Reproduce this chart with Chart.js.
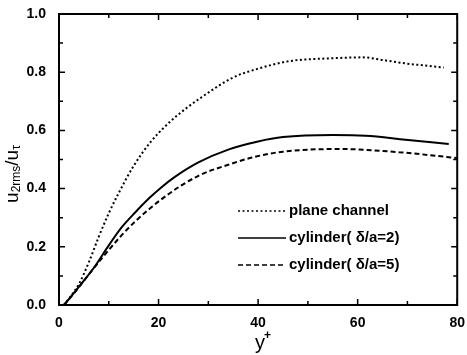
<!DOCTYPE html>
<html>
<head>
<meta charset="utf-8">
<script src="https://cdn.jsdelivr.net/npm/chart.js@4"></script>
<style>
  body { margin: 0; background: #fff; }
  #wrap { width: 467px; height: 355px; }
</style>
</head>
<body>
<div id="wrap"><canvas id="rms"></canvas></div>
<script>
// y+ positions and u2rms/u_tau
const planeX = [1, 4, 6, 8, 10, 12, 15, 18.3, 21.7, 25.7, 28.3, 35, 40, 46.3, 55, 61, 65, 69.7, 74, 77.3];
const planeY = [0, 0.072, 0.147, 0.235, 0.315, 0.385, 0.478, 0.558, 0.62, 0.678, 0.71, 0.782, 0.812, 0.838, 0.848, 0.851, 0.842, 0.83, 0.822, 0.816];

const cyl2X = [1, 4.6, 7.3, 10, 12.5, 15.3, 18.3, 20.6, 23, 28, 34, 40, 45, 55, 61.6, 69.6, 78.3];
const cyl2Y = [0, 0.075, 0.135, 0.205, 0.265, 0.318, 0.37, 0.405, 0.437, 0.49, 0.534, 0.562, 0.577, 0.584, 0.582, 0.568, 0.553];

const cyl5X = [1, 3, 6.6, 9.3, 12.6, 15.3, 21.5, 28, 34, 39.3, 45, 56.3, 68.3, 80];
const cyl5Y = [0, 0.04, 0.118, 0.175, 0.24, 0.287, 0.375, 0.444, 0.482, 0.509, 0.527, 0.536, 0.525, 0.505];

const labels = ['plane channel', 'cylinder( \u03b4/a=2)', 'cylinder( \u03b4/a=5)'];

const toPts = (xs, ys) => xs.map((v, i) => ({x: v, y: ys[i]}));

const FONT = '"Liberation Sans", Arial, sans-serif';

// box, inward ticks, legend and axis titles with sub/superscripts
const decor = {
  id: 'decor',
  afterDraw(chart) {
    const {ctx, chartArea: a, scales: {x, y}} = chart;
    ctx.save();
    ctx.strokeStyle = '#000';
    ctx.lineWidth = 2;
    ctx.strokeRect(a.left, a.top, a.right - a.left, a.bottom - a.top);

    ctx.lineWidth = 1.5;
    ctx.beginPath();
    for (let i = 0; i <= 8; i++) {
      const px = x.getPixelForValue(i * 10);
      const len = i % 2 === 0 ? 6 : 4;
      ctx.moveTo(px, a.bottom); ctx.lineTo(px, a.bottom - len);
      ctx.moveTo(px, a.top); ctx.lineTo(px, a.top + len);
    }
    for (let i = 0; i <= 10; i++) {
      const py = y.getPixelForValue(i / 10);
      const len = i % 2 === 0 ? 6 : 4;
      ctx.moveTo(a.left, py); ctx.lineTo(a.left + len, py);
      ctx.moveTo(a.right, py); ctx.lineTo(a.right - len, py);
    }
    ctx.stroke();

    // legend
    ctx.font = 'bold 15px ' + FONT;
    ctx.textBaseline = 'middle';
    ctx.fillStyle = '#000';
    chart.data.datasets.forEach((ds, i) => {
      const ly = a.top + 197 + i * 27;
      ctx.setLineDash(ds.borderDash || []);
      ctx.lineWidth = 1.5;
      ctx.beginPath();
      ctx.moveTo(a.left + 179, ly);
      ctx.lineTo(a.left + 227, ly);
      ctx.stroke();
      ctx.setLineDash([]);
      ctx.fillText(ds.label, a.left + 230, ly);
    });

    // y title: u_2rms / u_tau
    const big = '19px ' + FONT;
    const small = '12px ' + FONT;
    const parts = [['u', big, 0], ['2rms', small, 2], ['/u', big, 0], ['\u03c4', small, 2]];
    ctx.save();
    ctx.textBaseline = 'alphabetic';
    ctx.translate(18, 174);
    ctx.rotate(-Math.PI / 2);
    let total = 0;
    parts.forEach(p => { ctx.font = p[1]; total += ctx.measureText(p[0]).width; });
    let cx = -total / 2;
    parts.forEach(p => {
      ctx.font = p[1];
      ctx.fillText(p[0], cx, p[2]);
      cx += ctx.measureText(p[0]).width;
    });
    ctx.restore();

    // x title: y+
    ctx.textBaseline = 'alphabetic';
    ctx.font = '20px ' + FONT;
    const wy = ctx.measureText('y').width;
    ctx.fillText('y', 255, 349);
    ctx.font = 'bold 12px ' + FONT;
    ctx.fillText('+', 254 + wy, 339);
    ctx.restore();
  }
};

new Chart(document.getElementById('rms'), {
  type: 'scatter',
  data: {
    datasets: [
      {label: labels[0], data: toPts(planeX, planeY), borderColor: '#000', borderWidth: 2, borderDash: [2, 2.5]},
      {label: labels[1], data: toPts(cyl2X, cyl2Y), borderColor: '#000', borderWidth: 2},
      {label: labels[2], data: toPts(cyl5X, cyl5Y), borderColor: '#000', borderWidth: 2, borderDash: [5, 3]}
    ]
  },
  options: {
    responsive: true,
    maintainAspectRatio: false,
    animation: false,
    showLine: true,
    elements: {point: {radius: 0}, line: {tension: 0.4, cubicInterpolationMode: 'monotone'}},
    layout: {padding: {top: 14, right: 8, left: 0, bottom: 0}},
    plugins: {legend: {display: false}, tooltip: {enabled: false}},
    scales: {
      x: {
        type: 'linear', min: 0, max: 80,
        grid: {display: false}, border: {display: false},
        ticks: {stepSize: 20, padding: 2, color: '#000', font: {size: 14, weight: 'bold', family: FONT}},
        afterFit: s => { s.height = 50; }
      },
      y: {
        min: 0, max: 1,
        grid: {display: false}, border: {display: false},
        ticks: {stepSize: 0.2, padding: 5, color: '#000', font: {size: 14, weight: 'bold', family: FONT},
          callback: v => v.toFixed(1)},
        afterFit: s => { s.width = 59; }
      }
    }
  },
  plugins: [decor]
});
</script>
</body>
</html>
